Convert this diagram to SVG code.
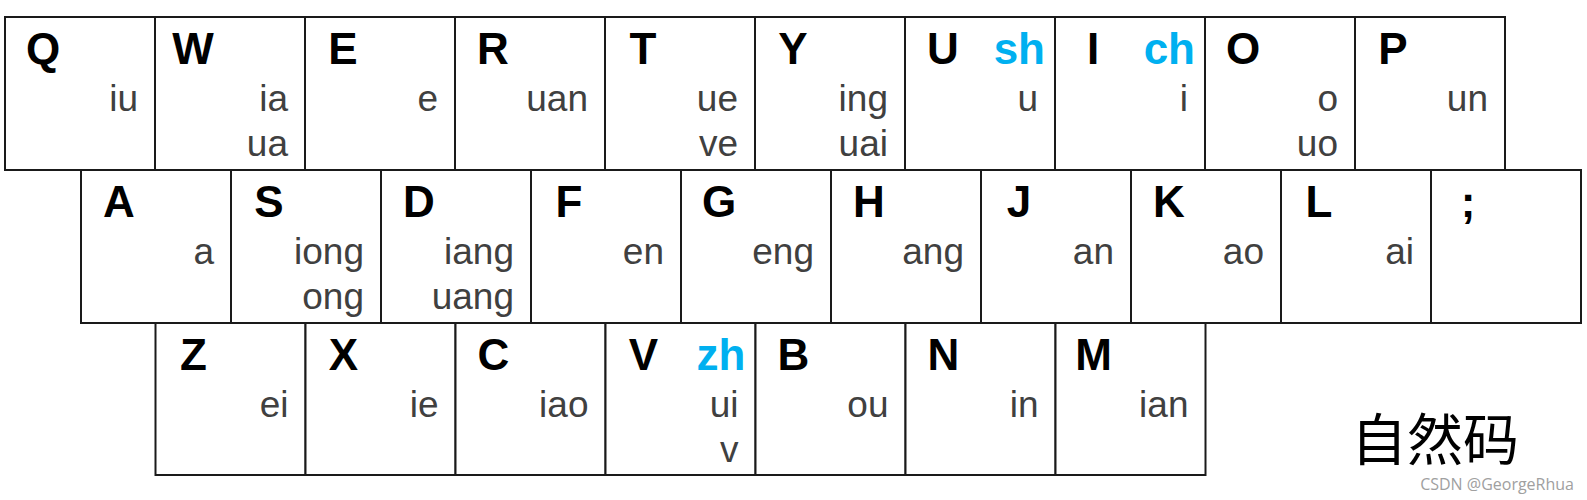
<svg xmlns="http://www.w3.org/2000/svg" width="1587" height="500" viewBox="0 0 1587 500">
<style>
.k{fill:#fff;stroke:#1a1a1a;stroke-width:2}
.L{font-family:"Liberation Sans",Arial,sans-serif;font-weight:bold;font-size:44px;fill:#000;text-anchor:middle}
.C{font-family:"Liberation Sans",Arial,sans-serif;font-weight:bold;font-size:44px;fill:#00B0F0;text-anchor:end}
.s{font-family:"Liberation Sans",Arial,sans-serif;font-size:37px;fill:#404040;text-anchor:end}
.t{font-family:"Noto Sans CJK SC",sans-serif;font-size:56px;fill:#000;text-anchor:middle}
.w{font-family:"Open Sans","Noto Sans",sans-serif;font-size:16px;fill:#a0a0a0;text-anchor:end}
</style>
<rect width="1587" height="500" fill="#fff"/>
<g id="key-Q"><rect class="k" x="5" y="17" width="150" height="153"/><text class="L" x="43" y="64">Q</text><text class="s" x="138" y="111">iu</text></g>
<g id="key-W"><rect class="k" x="155" y="17" width="150" height="153"/><text class="L" x="193" y="64">W</text><text class="s" x="288" y="111">ia</text><text class="s" x="288" y="156">ua</text></g>
<g id="key-E"><rect class="k" x="305" y="17" width="150" height="153"/><text class="L" x="343" y="64">E</text><text class="s" x="438" y="111">e</text></g>
<g id="key-R"><rect class="k" x="455" y="17" width="150" height="153"/><text class="L" x="493" y="64">R</text><text class="s" x="588" y="111">uan</text></g>
<g id="key-T"><rect class="k" x="605" y="17" width="150" height="153"/><text class="L" x="643" y="64">T</text><text class="s" x="738" y="111">ue</text><text class="s" x="738" y="156">ve</text></g>
<g id="key-Y"><rect class="k" x="755" y="17" width="150" height="153"/><text class="L" x="793" y="64">Y</text><text class="s" x="888" y="111">ing</text><text class="s" x="888" y="156">uai</text></g>
<g id="key-U"><rect class="k" x="905" y="17" width="150" height="153"/><text class="L" x="943" y="64">U</text><text class="C" x="1045" y="64">sh</text><text class="s" x="1038" y="111">u</text></g>
<g id="key-I"><rect class="k" x="1055" y="17" width="150" height="153"/><text class="L" x="1093" y="64">I</text><text class="C" x="1195" y="64">ch</text><text class="s" x="1188" y="111">i</text></g>
<g id="key-O"><rect class="k" x="1205" y="17" width="150" height="153"/><text class="L" x="1243" y="64">O</text><text class="s" x="1338" y="111">o</text><text class="s" x="1338" y="156">uo</text></g>
<g id="key-P"><rect class="k" x="1355" y="17" width="150" height="153"/><text class="L" x="1393" y="64">P</text><text class="s" x="1488" y="111">un</text></g>

<g id="key-A"><rect class="k" x="81" y="170" width="150" height="153"/><text class="L" x="119" y="217">A</text><text class="s" x="214" y="264">a</text></g>
<g id="key-S"><rect class="k" x="231" y="170" width="150" height="153"/><text class="L" x="269" y="217">S</text><text class="s" x="364" y="264">iong</text><text class="s" x="364" y="309">ong</text></g>
<g id="key-D"><rect class="k" x="381" y="170" width="150" height="153"/><text class="L" x="419" y="217">D</text><text class="s" x="514" y="264">iang</text><text class="s" x="514" y="309">uang</text></g>
<g id="key-F"><rect class="k" x="531" y="170" width="150" height="153"/><text class="L" x="569" y="217">F</text><text class="s" x="664" y="264">en</text></g>
<g id="key-G"><rect class="k" x="681" y="170" width="150" height="153"/><text class="L" x="719" y="217">G</text><text class="s" x="814" y="264">eng</text></g>
<g id="key-H"><rect class="k" x="831" y="170" width="150" height="153"/><text class="L" x="869" y="217">H</text><text class="s" x="964" y="264">ang</text></g>
<g id="key-J"><rect class="k" x="981" y="170" width="150" height="153"/><text class="L" x="1019" y="217">J</text><text class="s" x="1114" y="264">an</text></g>
<g id="key-K"><rect class="k" x="1131" y="170" width="150" height="153"/><text class="L" x="1169" y="217">K</text><text class="s" x="1264" y="264">ao</text></g>
<g id="key-L"><rect class="k" x="1281" y="170" width="150" height="153"/><text class="L" x="1319" y="217">L</text><text class="s" x="1414" y="264">ai</text></g>
<g id="key-semicolon"><rect class="k" x="1431" y="170" width="150" height="153"/><text class="L" x="1468" y="217">;</text></g>

<g id="key-Z"><rect class="k" x="155.5" y="323" width="150" height="152"/><text class="L" x="193.5" y="370">Z</text><text class="s" x="288.5" y="417">ei</text></g>
<g id="key-X"><rect class="k" x="305.5" y="323" width="150" height="152"/><text class="L" x="343.5" y="370">X</text><text class="s" x="438.5" y="417">ie</text></g>
<g id="key-C"><rect class="k" x="455.5" y="323" width="150" height="152"/><text class="L" x="493.5" y="370">C</text><text class="s" x="588.5" y="417">iao</text></g>
<g id="key-V"><rect class="k" x="605.5" y="323" width="150" height="152"/><text class="L" x="643.5" y="370">V</text><text class="C" x="745.5" y="370">zh</text><text class="s" x="738.5" y="417">ui</text><text class="s" x="738.5" y="462">v</text></g>
<g id="key-B"><rect class="k" x="755.5" y="323" width="150" height="152"/><text class="L" x="793.5" y="370">B</text><text class="s" x="888.5" y="417">ou</text></g>
<g id="key-N"><rect class="k" x="905.5" y="323" width="150" height="152"/><text class="L" x="943.5" y="370">N</text><text class="s" x="1038.5" y="417">in</text></g>
<g id="key-M"><rect class="k" x="1055.5" y="323" width="150" height="152"/><text class="L" x="1093.5" y="370">M</text><text class="s" x="1188.5" y="417">ian</text></g>

<g id="connectors"></g>
<g id="title"><text class="t" x="1435" y="460">自然码</text></g>
<g id="watermark"><text class="w" x="1574" y="490">CSDN @GeorgeRhua</text></g>
</svg>
